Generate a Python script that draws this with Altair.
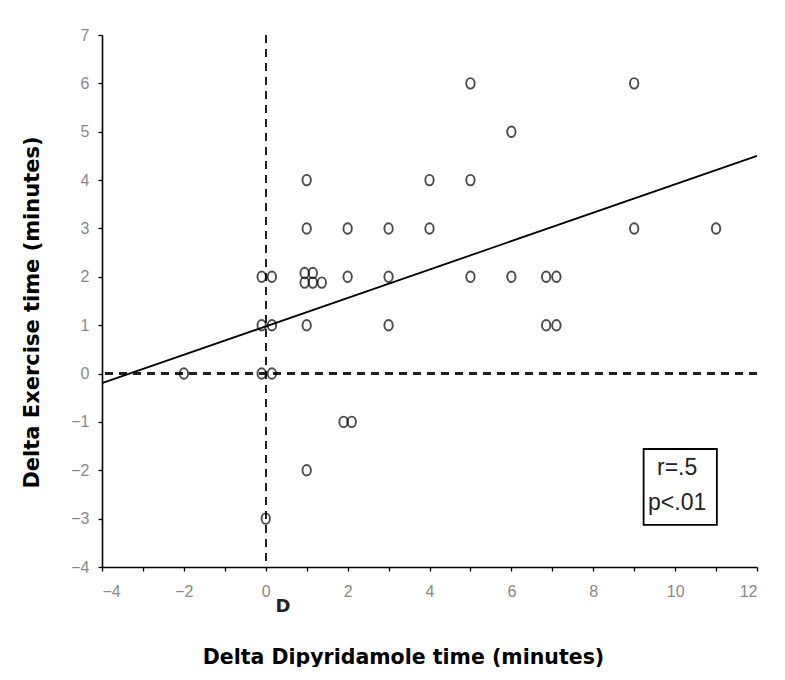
import altair as alt
import pandas as pd

# scatter points (Delta Dipyridamole time, Delta Exercise time)
xs = [5, 9, 6, 1, 4, 5, 1, 2, 3, 4, 9, 11,
      -0.1, 0.15, 0.95, 1.15, 0.95, 1.15, 1.37, 2, 3, 5, 6, 6.85, 7.1,
      -0.1, 0.15, 1, 3, 6.85, 7.1,
      -2, -0.1, 0.15, 1.9, 2.1, 1, 0]
ys = [6, 6, 5, 4, 4, 4, 3, 3, 3, 3, 3, 3,
      2, 2, 2.08, 2.08, 1.88, 1.88, 1.88, 2, 2, 2, 2, 2, 2,
      1, 1, 1, 1, 1, 1,
      0, 0, 0, -1, -1, -2, -3]

# regression line end points
reg_x = [-4, 12]
reg_y = [-0.2, 4.5]

# annotation box and text
box_x = [9.23]
box_x2 = [11.02]
box_y = [-1.56]
box_y2 = [-3.13]
note_text = ["r=.5", "p<.01"]
note_x = [10.05, 10.05]
note_y = [-1.95, -2.68]

x_ticks = list(range(-4, 13))
y_ticks = [v / 2 for v in range(-8, 15)]

pts = pd.DataFrame({"x": xs, "y": ys})
reg = pd.DataFrame({"x": reg_x, "y": reg_y})
box = pd.DataFrame({"x": box_x, "x2": box_x2, "y": box_y, "y2": box_y2})
notes = pd.DataFrame({"x": note_x, "y": note_y, "t": note_text})
dlab = pd.DataFrame({"x": [0.42], "y": [-4.83], "t": ["D"]})

xscale = alt.Scale(domain=[-4, 12], nice=False, zero=False)
yscale = alt.Scale(domain=[-4, 7], nice=False, zero=False)

title_font = "DejaVu Sans"

xaxis = alt.Axis(values=x_ticks,
                 labelExpr="datum.value % 2 == 0 ? replace(format(datum.value, 'd'), '-', '\u2212') : ''",
                 grid=False, domainColor="black", domainWidth=1.6, tickColor="black",
                 tickWidth=1.3, tickSize=4, labelColor="#888", labelFontSize=16,
                 labelFont="Liberation Sans", labelPadding=12,
                 title="Delta Dipyridamole time (minutes)", titleFont=title_font,
                 titleFontSize=20.5, titleFontWeight="bold", titleColor="black",
                 titleX=301, titleY=90, titleAlign="center", titleBaseline="middle")
yaxis = alt.Axis(values=y_ticks,
                 labelExpr="datum.value % 1 == 0 ? replace(format(datum.value, 'd'), '-', '\u2212') : ''",
                 grid=False, domainColor="black", domainWidth=1.6, tickColor="black",
                 tickWidth=1.3, tickSize=4, labelColor="#888", labelFontSize=16,
                 labelFont="Liberation Sans", labelPadding=9,
                 title="Delta Exercise time (minutes)", titleFont=title_font,
                 titleFontSize=21, titleFontWeight="bold", titleColor="black",
                 titleAngle=270, titleX=-70, titleY=277, titleAlign="center",
                 titleBaseline="middle")

ellipse = "M -0.8,0 A 0.8,1 0 1,1 0.8,0 A 0.8,1 0 1,1 -0.8,0 Z"

points = alt.Chart(pts).mark_point(shape=ellipse, filled=False, color="black",
                                   size=110, strokeWidth=1.9).encode(
    x=alt.X("x:Q", scale=xscale, axis=xaxis),
    y=alt.Y("y:Q", scale=yscale, axis=yaxis),
)

vline = alt.Chart(pts).mark_rule(color="#222", strokeDash=[8, 6], strokeWidth=1.4).encode(
    x=alt.datum(0, scale=xscale))
hline = alt.Chart(pts).mark_rule(color="#222", strokeDash=[8, 6], strokeWidth=1.4).encode(
    y=alt.datum(0, scale=yscale))

line = alt.Chart(reg).mark_line(color="black", strokeWidth=1.8).encode(
    x=alt.X("x:Q", scale=xscale), y=alt.Y("y:Q", scale=yscale))

rect = alt.Chart(box).mark_rect(fill="white", stroke="black", strokeWidth=1.8).encode(
    x=alt.X("x:Q", scale=xscale), x2="x2:Q",
    y=alt.Y("y:Q", scale=yscale), y2="y2:Q")

txt = alt.Chart(notes).mark_text(font="Liberation Sans", fontSize=23, color="#222",
                                 align="center", baseline="middle").encode(
    x=alt.X("x:Q", scale=xscale), y=alt.Y("y:Q", scale=yscale), text="t:N")

dtxt = alt.Chart(dlab).mark_text(font="DejaVu Sans", fontSize=18, fontWeight="bold",
                                 color="#222", align="center", baseline="middle").encode(
    x=alt.X("x:Q", scale=xscale), y=alt.Y("y:Q", scale=yscale), text="t:N")

chart = alt.layer(vline, hline, line, points, rect, txt, dtxt).properties(
    width=655, height=532,
    autosize=alt.AutoSizeParams(type="none"),
    padding={"left": 94, "top": 27, "right": 20, "bottom": 100},
    view=alt.ViewBackground(stroke="transparent", strokeWidth=0),
).configure_view(stroke="transparent", strokeWidth=0).configure(background="white")

chart.save("out.html", embed_options={"renderer": "svg", "actions": False})
